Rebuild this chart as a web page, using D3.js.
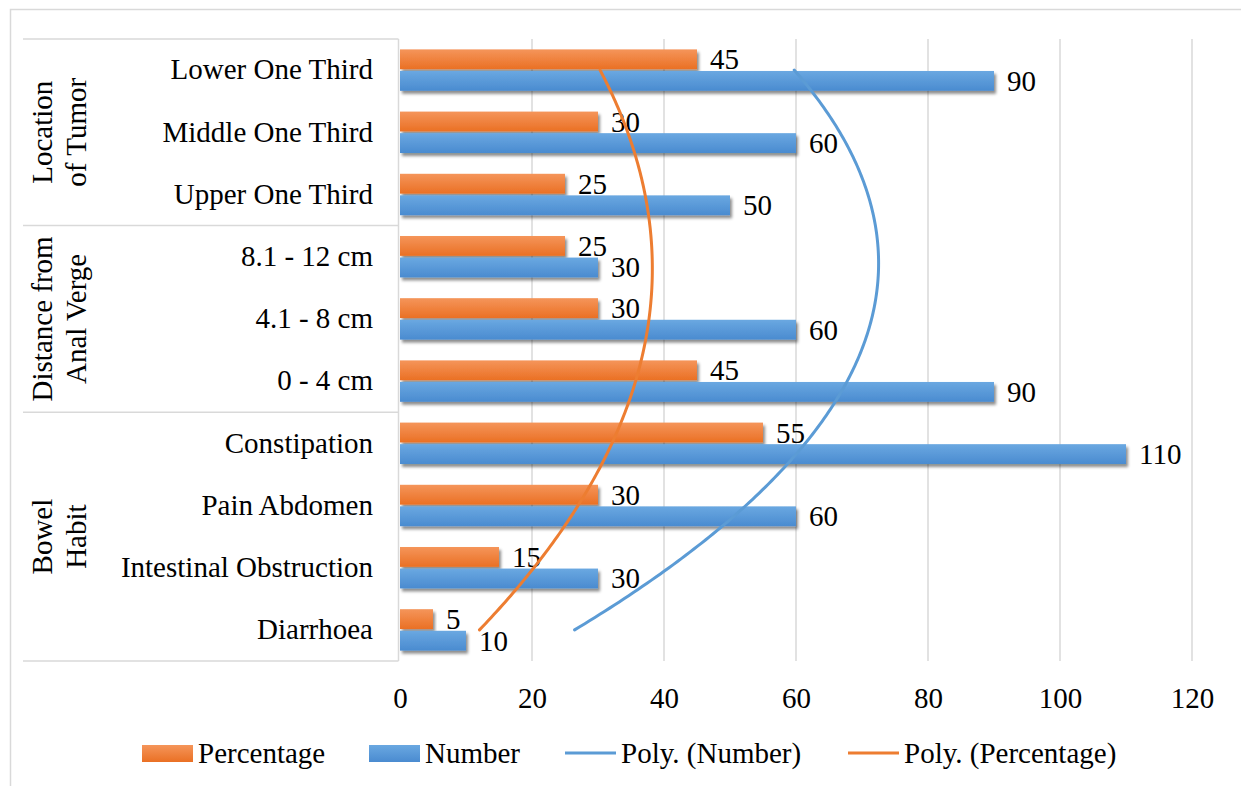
<!DOCTYPE html>
<html>
<head>
<meta charset="utf-8">
<script src="https://cdn.jsdelivr.net/npm/d3@7/dist/d3.min.js"></script>
<style>
  html, body { margin: 0; padding: 0; background: #fff; }
  svg { display: block; }
  text { font-family: "Liberation Serif", "Times New Roman", serif; fill: #000; }
</style>
</head>
<body>
<svg id="chart" width="1241" height="786"></svg>
<script>
// Categories listed from top to bottom
const categories = [
  "Lower One Third", "Middle One Third", "Upper One Third",
  "8.1 - 12 cm", "4.1 - 8 cm", "0 - 4 cm",
  "Constipation", "Pain Abdomen", "Intestinal Obstruction", "Diarrhoea"
];
const percentage = [45, 30, 25, 25, 30, 45, 55, 30, 15, 5];
const number     = [90, 60, 50, 30, 60, 90, 110, 60, 30, 10];

// Group labels: two lines each, with the index range of categories they span
const groups = [
  { lines: ["Location", "of Tumor"],        from: 0, to: 2 },
  { lines: ["Distance from", "Anal Verge"], from: 3, to: 5 },
  { lines: ["Bowel", "Habit"],              from: 6, to: 9 }
];
const xTicks = [0, 20, 40, 60, 80, 100, 120];
const seriesNames = ["Percentage", "Number"];

const COLORS = { Percentage: "#ED7D31", Number: "#5B9BD5" };

const svg = d3.select("#chart");
const defs = svg.append("defs");

// Bar gradients (lighter at top)
const grad = (id, top, bottom) => {
  const g = defs.append("linearGradient").attr("id", id)
    .attr("x1", 0).attr("y1", 0).attr("x2", 0).attr("y2", 1);
  g.append("stop").attr("offset", "0%").attr("stop-color", top);
  g.append("stop").attr("offset", "100%").attr("stop-color", bottom);
};
grad("g-Percentage", "#F5955A", "#EA7024");
grad("g-Number", "#6AA8E1", "#4A8BD0");

// Soft drop shadow under bars
const f = defs.append("filter").attr("id", "shadow")
  .attr("x", "-5%").attr("y", "-30%").attr("width", "115%").attr("height", "180%");
f.append("feDropShadow").attr("dx", 2).attr("dy", 3).attr("stdDeviation", 1.8)
  .attr("flood-color", "#000").attr("flood-opacity", 0.45);

// Outer chart border
svg.append("rect").attr("x", 10.5).attr("y", 9.5).attr("width", 1245).attr("height", 800)
  .attr("fill", "none").attr("stroke", "#D9D9D9").attr("stroke-width", 1.5);

const plot = { left: 400, right: 1192, top: 39, bottom: 661 };

const x = d3.scaleLinear().domain([0, 120]).range([plot.left, plot.right]);
const y = d3.scaleBand().domain(categories).range([plot.top, plot.bottom]);
const ySeries = d3.scaleBand().domain(seriesNames)
  .range([y.bandwidth() * 0.167, y.bandwidth() * 0.833]).paddingInner(0.08);

// Vertical gridlines
svg.append("g").selectAll("line").data(xTicks.filter(d => d > 0)).join("line")
  .attr("x1", d => x(d)).attr("x2", d => x(d))
  .attr("y1", plot.top).attr("y2", plot.bottom)
  .attr("stroke", "#D9D9D9").attr("stroke-width", 1.5);

// Value axis tick labels
const xAxis = d3.axisBottom(x).tickValues(xTicks).tickSize(0).tickPadding(0);
const gx = svg.append("g").attr("transform", `translate(0, 698)`).call(xAxis);
gx.select(".domain").remove();
gx.selectAll("text").attr("font-size", 29).attr("dy", "0.35em")
  .style("font-family", '"Liberation Serif", "Times New Roman", serif').attr("fill", "#000");

// Category frame (axis line + group separators)
const frame = svg.append("g").attr("stroke", "#D9D9D9").attr("stroke-width", 1.5);
frame.append("line").attr("x1", 398.5).attr("x2", 398.5)
  .attr("y1", plot.top).attr("y2", plot.bottom);
const sepYs = [plot.top].concat(groups.map(g => y(categories[g.to]) + y.bandwidth()));
frame.selectAll("line.sep").data(sepYs).join("line").attr("class", "sep")
  .attr("x1", 23).attr("x2", 398.5).attr("y1", d => d).attr("y2", d => d);

// Category labels
const yAxis = d3.axisLeft(y).tickSize(0).tickPadding(0);
const gy = svg.append("g").attr("transform", `translate(373, 0)`).call(yAxis);
gy.select(".domain").remove();
gy.selectAll("text").attr("font-size", 29)
  .style("font-family", '"Liberation Serif", "Times New Roman", serif').attr("fill", "#000");

// Group labels, rotated
groups.forEach(g => {
  const cy = (y(categories[g.from]) + y(categories[g.to]) + y.bandwidth()) / 2;
  const t = svg.append("text")
    .attr("transform", `translate(59, ${cy}) rotate(-90)`)
    .attr("text-anchor", "middle").attr("font-size", 29);
  g.lines.forEach((ln, i) => {
    t.append("tspan").attr("x", 0).attr("y", (i - 0.5) * 34)
      .attr("dominant-baseline", "central").text(ln);
  });
});

// Bars
const rows = categories.map((c, i) => ({ c, Percentage: percentage[i], Number: number[i] }));
const barG = svg.append("g");
seriesNames.forEach(s => {
  barG.append("g").selectAll("rect").data(rows).join("rect")
    .attr("x", x(0))
    .attr("y", d => y(d.c) + ySeries(s))
    .attr("width", d => x(d[s]) - x(0))
    .attr("height", ySeries.bandwidth())
    .attr("fill", `url(#g-${s})`)
    .attr("filter", "url(#shadow)");
});

// Value labels
seriesNames.forEach(s => {
  svg.append("g").selectAll("text").data(rows).join("text")
    .attr("x", d => x(d[s]) + 13)
    .attr("y", d => y(d.c) + ySeries(s) + ySeries.bandwidth() / 2)
    .attr("dominant-baseline", "central")
    .attr("font-size", 29)
    .text(d => d[s]);
});

// Second-order polynomial trendlines (least squares on category index 1..n, bottom = 1)
function polyFit2(vals) {
  const n = vals.length;
  const xs = vals.map((_, i) => i + 1);
  const mx = d3.mean(xs);
  let S2 = 0, S4 = 0, Sy = 0, Syt = 0, Syt2 = 0;
  xs.forEach((xi, i) => {
    const t = xi - mx, v = vals[i];
    S2 += t * t; S4 += t ** 4; Sy += v; Syt += v * t; Syt2 += v * t * t;
  });
  const B = Syt / S2;
  const C = (Syt2 - S2 * Sy / n) / (S4 - S2 * S2 / n);
  const A = (Sy - C * S2) / n;
  return xi => A + B * (xi - mx) + C * (xi - mx) ** 2;
}
const yIndex = d3.scaleLinear().domain([1, categories.length])
  .range([y(categories[categories.length - 1]) + y.bandwidth() / 2, y(categories[0]) + y.bandwidth() / 2]);

[["Number", number], ["Percentage", percentage]].forEach(([s, vals]) => {
  const bottomUp = vals.slice().reverse();
  const fn = polyFit2(bottomUp);
  const pts = d3.range(1, categories.length + 0.0001, 0.05).map(k => [x(fn(k)), yIndex(k)]);
  svg.append("path").datum(pts)
    .attr("d", d3.line().curve(d3.curveLinear))
    .attr("fill", "none").attr("stroke", COLORS[s]).attr("stroke-width", 3)
    .attr("stroke-linecap", "round");
});

// Legend
const legend = [
  { name: "Percentage", type: "rect", x: 142 },
  { name: "Number", type: "rect", x: 369 },
  { name: "Poly. (Number)", type: "line", x: 565, color: COLORS.Number },
  { name: "Poly. (Percentage)", type: "line", x: 848, color: COLORS.Percentage }
];
const lg = svg.append("g");
legend.forEach(d => {
  if (d.type === "rect") {
    lg.append("rect").attr("x", d.x).attr("y", 745).attr("width", 51).attr("height", 17)
      .attr("fill", `url(#g-${d.name})`);
  } else {
    lg.append("line").attr("x1", d.x).attr("x2", d.x + 51).attr("y1", 753).attr("y2", 753)
      .attr("stroke", d.color).attr("stroke-width", 3);
  }
  lg.append("text").attr("x", d.x + 56).attr("y", 753)
    .attr("dominant-baseline", "central").attr("font-size", 29).text(d.name);
});
</script>
</body>
</html>
